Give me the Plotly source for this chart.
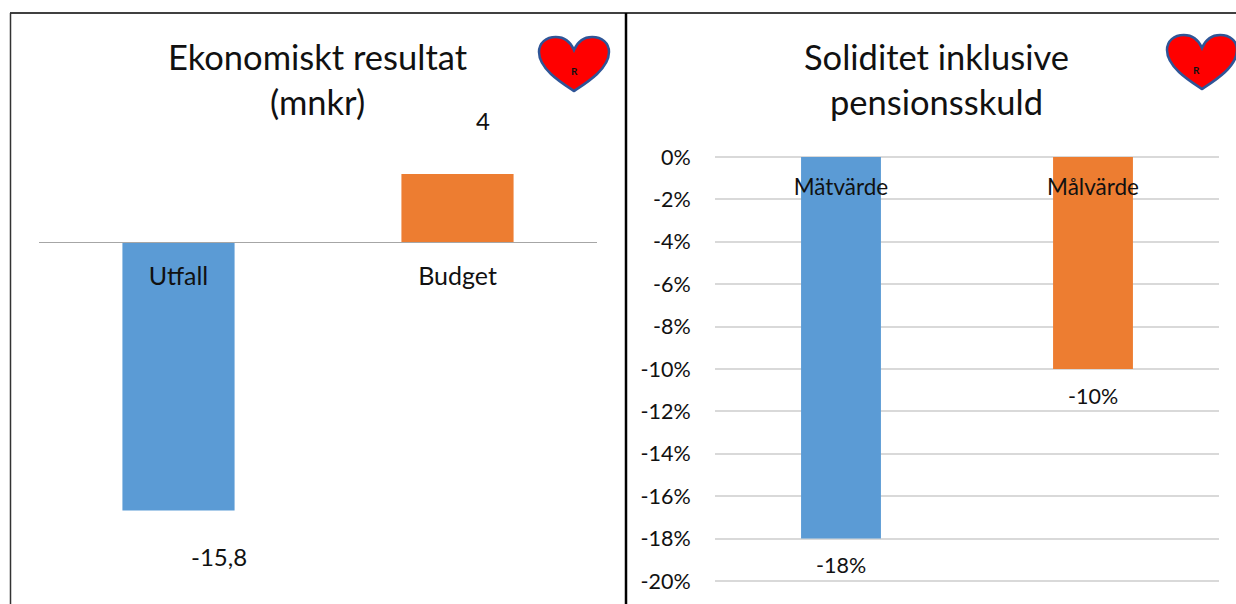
import plotly.graph_objects as go

W, H = 1236, 604
FONT = "Lato, Carlito, Calibri, sans-serif"
INK = "#111111"

# data
left_title = "Ekonomiskt resultat<br>(mnkr)"
left_categories = ["Utfall", "Budget"]
left_values = [-15.8, 4]
left_labels = ["-15,8", "4"]

right_title = "Soliditet inklusive<br>pensionsskuld"
right_categories = ["Mätvärde", "Målvärde"]
right_values = [-18, -10]
right_labels = ["-18%", "-10%"]
right_ticks = [0, -2, -4, -6, -8, -10, -12, -14, -16, -18, -20]
right_ticktext = ["0%", "-2%", "-4%", "-6%", "-8%", "-10%", "-12%", "-14%", "-16%", "-18%", "-20%"]

bar_colors = ["#5B9BD5", "#ED7D31"]


def fx(px):
    return px / W


def fy(px):
    return 1 - px / H


fig = go.Figure()
fig.add_bar(x=left_categories, y=left_values, marker_color=bar_colors, marker_line_width=0,
            width=0.402, xaxis="x", yaxis="y", showlegend=False)
fig.add_bar(x=right_categories, y=right_values, marker_color=bar_colors, marker_line_width=0,
            width=0.317, xaxis="x2", yaxis="y2", showlegend=False)

annotations = [
    dict(text=left_title, xref="paper", yref="paper", x=fx(318), y=fy(79), showarrow=False,
         font=dict(size=34.5, color=INK, family=FONT), align="center", xanchor="center", yanchor="middle"),
    dict(text=right_title, xref="paper", yref="paper", x=fx(936), y=fy(79), showarrow=False,
         font=dict(size=34.5, color=INK, family=FONT), align="center", xanchor="center", yanchor="middle"),
    dict(text=left_labels[0], xref="x", yref="y", x=left_categories[0], y=left_values[0], xshift=40, yshift=-46,
         showarrow=False, font=dict(size=24, color=INK, family=FONT)),
    dict(text=left_labels[1], xref="x", yref="y", x=left_categories[1], y=left_values[1], xshift=25, yshift=53,
         showarrow=False, font=dict(size=24, color=INK, family=FONT)),
    dict(text=right_labels[0], xref="x2", yref="y2", x=right_categories[0], y=right_values[0], yshift=-26,
         showarrow=False, font=dict(size=21.5, color=INK, family=FONT)),
    dict(text=right_labels[1], xref="x2", yref="y2", x=right_categories[1], y=right_values[1], yshift=-27,
         showarrow=False, font=dict(size=21.5, color=INK, family=FONT)),
    dict(text="<b>R</b>", xref="paper", yref="paper", x=fx(574), y=fy(63), showarrow=False,
         font=dict(size=10, color="#111111", family=FONT)),
    dict(text="<b>R</b>", xref="paper", yref="paper", x=fx(1202), y=fy(62), showarrow=False,
         font=dict(size=10, color="#111111", family=FONT)),
]


def heart(cx, top, half, bottom, notch):
    """SVG path of the decorative heart in paper coordinates."""
    def p(x, y):
        return f"{fx(x):.5f},{fy(y):.5f}"
    lobe = half * 0.52
    side = top + 15
    return (
        f"M{p(cx, notch)} "
        f"C{p(cx + half * 0.12, top + 3)} {p(cx + lobe * 0.6, top)} {p(cx + lobe, top)} "
        f"C{p(cx + half * 0.8, top)} {p(cx + half, top + 6)} {p(cx + half, side)} "
        f"C{p(cx + half, side + 17)} {p(cx + half * 0.35, bottom - 8)} {p(cx, bottom)} "
        f"C{p(cx - half * 0.35, bottom - 8)} {p(cx - half, side + 17)} {p(cx - half, side)} "
        f"C{p(cx - half, top + 6)} {p(cx - half * 0.8, top)} {p(cx - lobe, top)} "
        f"C{p(cx - lobe * 0.6, top)} {p(cx - half * 0.12, top + 3)} {p(cx, notch)} Z"
    )


def frame(x0, y0, x1, y1, color, width):
    return dict(type="line", xref="paper", yref="paper", x0=fx(x0), y0=fy(y0), x1=fx(x1), y1=fy(y1),
                line=dict(color=color, width=width), layer="above")


shapes = [
    frame(10, 13, W, 13, "#000000", 1.5),
    frame(10.5, 13, 10.5, H, "#333333", 1.5),
    frame(626, 13, 626, H, "#000000", 2.5),
    dict(type="path", xref="paper", yref="paper", path=heart(574, 37, 35, 91, 50),
         fillcolor="#FF0000", line=dict(color="#2F5597", width=2.5), layer="below"),
    dict(type="path", xref="paper", yref="paper", path=heart(1202, 35, 35, 89, 48),
         fillcolor="#FF0000", line=dict(color="#2F5597", width=2.5), layer="below"),
]

fig.update_layout(
    width=W, height=H, margin=dict(l=0, r=0, t=0, b=0, pad=0),
    paper_bgcolor="#FFFFFF", plot_bgcolor="rgba(0,0,0,0)", showlegend=False,
    font=dict(family=FONT, color=INK),
    annotations=annotations, shapes=shapes,
    xaxis=dict(domain=[fx(39), fx(597)], range=[-0.5, 1.5], type="category", automargin=False,
               anchor="free", position=fy(242), showgrid=False, zeroline=False,
               showline=True, linecolor="#A6A6A6", linewidth=1,
               ticks="outside", ticklen=12, tickcolor="rgba(0,0,0,0)",
               tickfont=dict(size=25, color=INK, family=FONT)),
    yaxis=dict(domain=[fy(548), fy(140)], range=[-18, 6], visible=False, anchor="x", automargin=False),
    xaxis2=dict(domain=[fx(715), fx(1219)], range=[-0.5, 1.5], type="category", automargin=False,
                anchor="free", position=fy(157), showgrid=False, zeroline=False,
                showline=False, ticks="outside", ticklen=10, tickcolor="rgba(0,0,0,0)",
                tickfont=dict(size=22.5, color=INK, family=FONT)),
    yaxis2=dict(domain=[fy(583), fy(155)], range=[-20.094, 0.094], anchor="x2", automargin=False,
                tickmode="array", tickvals=right_ticks, ticktext=right_ticktext,
                showgrid=True, gridcolor="#D9D9D9", gridwidth=1.5, zeroline=False, showline=False,
                ticks="outside", ticklen=19, tickcolor="rgba(0,0,0,0)",
                tickfont=dict(size=21.5, color=INK, family=FONT)),
)

fig.write_html("out.html", config=dict(displayModeBar=False),
               post_script="document.body.style.margin='0';document.body.style.overflow='hidden';")
